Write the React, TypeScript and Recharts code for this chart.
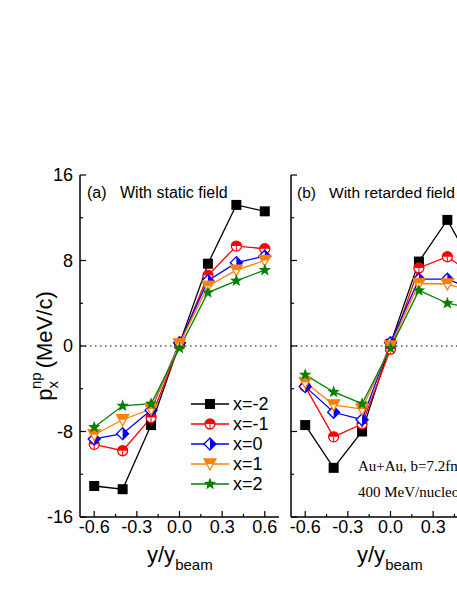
import React from "react";
import { Line, LineChart, ReferenceLine, XAxis, YAxis } from "recharts";

// rapidity bins (y/y_beam)
const RAPIDITY = [-0.6, -0.4, -0.2, 0.0, 0.2, 0.4, 0.6];

// (a) with static field, p_x^np in MeV/c
const STATIC_M2 = [-13.1, -13.4, -7.4, 0.2, 7.7, 13.2, 12.6];
const STATIC_M1 = [-9.2, -9.8, -6.7, 0.1, 6.6, 9.35, 9.1];
const STATIC_Z0 = [-8.7, -8.2, -6.0, 0.3, 6.1, 7.8, 8.4];
const STATIC_P1 = [-8.3, -6.9, -5.9, 0.2, 5.6, 7.1, 8.0];
const STATIC_P2 = [-7.6, -5.6, -5.4, -0.2, 5.0, 6.1, 7.1];

// (b) with retarded field
const RETARD_M2 = [-7.4, -11.4, -8.0, 0.2, 7.9, 11.8, 7.0];
const RETARD_M1 = [-3.8, -8.5, -7.3, -0.3, 7.3, 8.35, 6.5];
const RETARD_Z0 = [-3.8, -6.2, -6.9, 0.3, 6.25, 6.25, 5.2];
const RETARD_P1 = [-3.4, -5.5, -5.9, 0.0, 5.85, 5.8, 5.0];
const RETARD_P2 = [-2.7, -4.3, -5.4, -0.2, 5.2, 4.0, 3.5];

const X_TICKS = [-0.6, -0.45, -0.3, -0.15, 0, 0.15, 0.3, 0.45, 0.6];
const Y_TICKS = [-16, -12, -8, -4, 0, 4, 8, 12, 16];

const SANS = "'Liberation Sans', Arial, sans-serif";
const SERIF = "'Liberation Serif', 'Times New Roman', serif";

type Kind = "square" | "circle" | "diamond" | "triangle" | "star";

const SERIES: { key: string; label: string; color: string; kind: Kind }[] = [
  { key: "m2", label: "x=-2", color: "#000000", kind: "square" },
  { key: "m1", label: "x=-1", color: "#ff0000", kind: "circle" },
  { key: "z0", label: "x=0", color: "#0000ff", kind: "diamond" },
  { key: "p1", label: "x=1", color: "#ff8000", kind: "triangle" },
  { key: "p2", label: "x=2", color: "#008000", kind: "star" },
];

function buildRows(m2: number[], m1: number[], z0: number[], p1: number[], p2: number[]) {
  return RAPIDITY.map((y, i) => ({ y, m2: m2[i], m1: m1[i], z0: z0[i], p1: p1[i], p2: p2[i] }));
}

const STATIC_ROWS = buildRows(STATIC_M2, STATIC_M1, STATIC_Z0, STATIC_P1, STATIC_P2);
const RETARD_ROWS = buildRows(RETARD_M2, RETARD_M1, RETARD_Z0, RETARD_P1, RETARD_P2);

function starPoints(cx: number, cy: number, ro: number, ri: number) {
  const pts: string[] = [];
  for (let i = 0; i < 10; i++) {
    const r = i % 2 === 0 ? ro : ri;
    const a = -Math.PI / 2 + (i * Math.PI) / 5;
    pts.push(`${cx + r * Math.cos(a)},${cy + r * Math.sin(a)}`);
  }
  return pts.join(" ");
}

function Marker({ kind, color, cx, cy }: { kind: Kind; color: string; cx: number; cy: number }) {
  switch (kind) {
    case "square":
      return <rect x={cx - 5} y={cy - 5} width={10} height={10} fill={color} />;
    case "circle":
      return (
        <g>
          <circle cx={cx} cy={cy} r={5} fill="#fff" stroke={color} strokeWidth={1.3} />
          <path d={`M${cx - 5},${cy} A5,5 0 0 1 ${cx + 5},${cy} Z`} fill={color} />
          <line x1={cx} x2={cx} y1={cy} y2={cy + 5} stroke={color} strokeWidth={1} />
        </g>
      );
    case "diamond":
      return (
        <g>
          <polygon
            points={`${cx},${cy - 6} ${cx + 6},${cy} ${cx},${cy + 6} ${cx - 6},${cy}`}
            fill="#fff"
            stroke={color}
            strokeWidth={1.3}
          />
          <polygon points={`${cx},${cy - 6} ${cx + 6},${cy} ${cx},${cy + 6}`} fill={color} />
        </g>
      );
    case "triangle":
      return (
        <g>
          <polygon
            points={`${cx - 6},${cy - 5} ${cx + 6},${cy - 5} ${cx},${cy + 6}`}
            fill="#fff"
            stroke={color}
            strokeWidth={1.3}
          />
          <polygon
            points={`${cx - 6},${cy - 5} ${cx + 6},${cy - 5} ${cx + 3.3},${cy} ${cx - 3.3},${cy}`}
            fill={color}
          />
        </g>
      );
    default:
      return <polygon points={starPoints(cx, cy, 6.5, 2.7)} fill={color} />;
  }
}

const isMajorX = (v: number) => Math.abs(Math.round(v * 100)) % 30 === 0;
const isMajorY = (v: number) => Math.abs(v) % 8 === 0;

function BottomTick({ x, y, payload }: any) {
  const major = isMajorX(payload.value);
  return (
    <g>
      <line x1={x} x2={x} y1={y} y2={y - (major ? 6 : 3)} stroke="#000" strokeWidth={1.2} />
      {major && (
        <text x={x} y={y + 16} textAnchor="middle" fontSize={18} fontFamily={SANS} fill="#000">
          {payload.value.toFixed(1)}
        </text>
      )}
    </g>
  );
}

function TopTick({ x, y, payload }: any) {
  const major = isMajorX(payload.value);
  return <line x1={x} x2={x} y1={y} y2={y + (major ? 6 : 3)} stroke="#000" strokeWidth={1.2} />;
}

function makeLeftTick(showLabels: boolean) {
  return function LeftTick({ x, y, payload }: any) {
    const major = isMajorY(payload.value);
    return (
      <g>
        <line x1={x} x2={x + (major ? 6 : 3)} y1={y} y2={y} stroke="#000" strokeWidth={1.2} />
        {showLabels && major && (
          <text x={x - 7} y={y + 6} textAnchor="end" fontSize={18} fontFamily={SANS} fill="#000">
            {payload.value}
          </text>
        )}
      </g>
    );
  };
}

function RightTick({ x, y, payload }: any) {
  const major = isMajorY(payload.value);
  return <line x1={x} x2={x - (major ? 6 : 3)} y1={y} y2={y} stroke="#000" strokeWidth={1.2} />;
}

const axisLine = { stroke: "#000", strokeWidth: 1.5 };

function Panel({ rows, showYLabels }: { rows: any[]; showYLabels: boolean }) {
  const LeftTick = makeLeftTick(showYLabels);
  return (
    <LineChart width={300} height={591} data={rows} margin={{ top: 175, right: 21, bottom: 0, left: 0 }}>
      <XAxis
        xAxisId="b"
        dataKey="y"
        type="number"
        domain={[-0.7, 0.7]}
        ticks={X_TICKS}
        interval={0}
        height={74}
        tickSize={0}
        tickMargin={0}
        tickLine={false}
        axisLine={axisLine}
        tick={<BottomTick />}
      />
      <XAxis
        xAxisId="t"
        orientation="top"
        dataKey="y"
        type="number"
        domain={[-0.7, 0.7]}
        ticks={X_TICKS}
        interval={0}
        height={0}
        tickSize={0}
        tickMargin={0}
        tickLine={false}
        axisLine={axisLine}
        tick={<TopTick />}
      />
      <YAxis
        yAxisId="l"
        type="number"
        domain={[-16, 16]}
        ticks={Y_TICKS}
        interval={0}
        width={80}
        tickSize={0}
        tickMargin={0}
        tickLine={false}
        axisLine={axisLine}
        tick={<LeftTick />}
      />
      <YAxis
        yAxisId="r"
        orientation="right"
        type="number"
        domain={[-16, 16]}
        ticks={Y_TICKS}
        interval={0}
        width={0}
        tickSize={0}
        tickMargin={0}
        tickLine={false}
        axisLine={axisLine}
        tick={<RightTick />}
      />
      <ReferenceLine xAxisId="b" yAxisId="l" y={0} stroke="#000" strokeWidth={1.2} strokeDasharray="1.5 3.5" />
      {SERIES.map((s) => (
        <Line
          key={s.key}
          xAxisId="b"
          yAxisId="l"
          type="linear"
          dataKey={s.key}
          stroke={s.color}
          strokeWidth={1.3}
          isAnimationActive={false}
          activeDot={false}
          dot={(p: any) => (
            <Marker key={`${s.key}-${p.index}`} kind={s.kind} color={s.color} cx={p.cx} cy={p.cy} />
          )}
        />
      ))}
    </LineChart>
  );
}

function XTitle({ x }: { x: number }) {
  return (
    <text x={x} y={562} fontSize={22} fontFamily={SANS} fill="#000">
      y/y
      <tspan fontSize={15} dy={8}>
        beam
      </tspan>
    </text>
  );
}

export default function App() {
  return (
    <div
      style={{
        position: "absolute",
        left: 0,
        top: 0,
        width: 457,
        height: 591,
        overflow: "hidden",
        background: "#fff",
      }}
    >
      <div style={{ position: "absolute", left: 0, top: 0 }}>
        <Panel rows={STATIC_ROWS} showYLabels />
      </div>
      <div style={{ position: "absolute", left: 211, top: 0 }}>
        <Panel rows={RETARD_ROWS} showYLabels={false} />
      </div>
      <svg
        width={457}
        height={591}
        style={{ position: "absolute", left: 0, top: 0, pointerEvents: "none" }}
      >
        <text transform="translate(52,346) rotate(-90)" textAnchor="middle" fontSize={22} fontFamily={SANS} fill="#000">
          p
          <tspan fontSize={15} dy={6}>
            x
          </tspan>
          <tspan fontSize={15} dx={-8} dy={-17}>
            np
          </tspan>
          <tspan dx={4} dy={11}>
            (MeV/c)
          </tspan>
        </text>
        <XTitle x={147} />
        <XTitle x={357} />
        <text x={87} y={198} fontSize={16} fontFamily={SANS} fill="#000">
          (a)
          <tspan x={120}>With static field</tspan>
        </text>
        <text x={297} y={198} fontSize={15.5} fontFamily={SANS} fill="#000">
          (b)
          <tspan x={329}>With retarded field</tspan>
        </text>
        <text x={358} y={471} fontSize={15} fontFamily={SERIF} fill="#000">
          Au+Au, b=7.2fm
        </text>
        <text x={358} y={497} fontSize={15} fontFamily={SERIF} fill="#000">
          400 MeV/nucleon
        </text>
        {SERIES.map((s, i) => {
          const ly = 404 + i * 20;
          return (
            <g key={s.key}>
              <line x1={191} x2={229} y1={ly} y2={ly} stroke={s.color} strokeWidth={1.3} />
              <Marker kind={s.kind} color={s.color} cx={210} cy={ly} />
              <text x={233} y={ly + 6} fontSize={18} fontFamily={SANS} fill="#000">
                {s.label}
              </text>
            </g>
          );
        })}
      </svg>
    </div>
  );
}
